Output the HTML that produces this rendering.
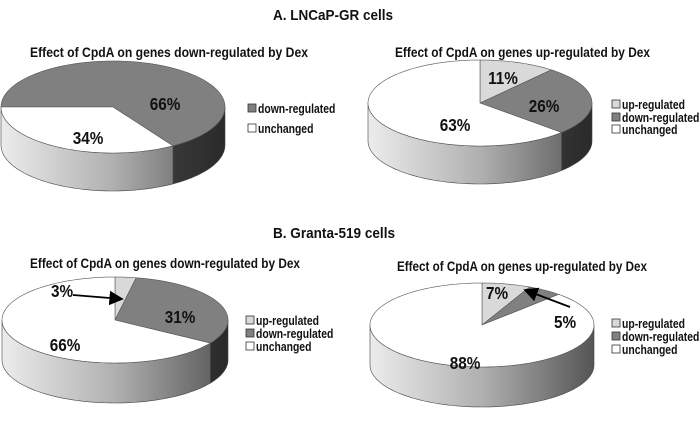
<!DOCTYPE html>
<html><head><meta charset="utf-8"><style>
body{margin:0;background:#fff;}
svg text{font-family:"Liberation Sans",sans-serif;font-weight:bold;fill:#111;}
</style></head><body>
<svg id="chart" width="700" height="424" viewBox="0 0 700 424" xmlns="http://www.w3.org/2000/svg">
<defs>
<marker id="ah" markerWidth="8" markerHeight="8" refX="7" refY="4" orient="auto"><path d="M0,0 L8,4 L0,8 Z" fill="#000"/></marker>
</defs>
<text x="273" y="20" font-size="15" textLength="120" lengthAdjust="spacingAndGlyphs">A. LNCaP-GR cells</text>
<text x="273" y="238" font-size="15" textLength="122" lengthAdjust="spacingAndGlyphs">B. Granta-519 cells</text>
<g id="pies"></g>
</svg>
<script>
var pieTitles=["Effect of CpdA on genes down-regulated by Dex","Effect of CpdA on genes up-regulated by Dex","Effect of CpdA on genes down-regulated by Dex","Effect of CpdA on genes up-regulated by Dex"];
var pie1Cats=["down-regulated","unchanged"];
var pie1Vals=[66,34];
var pie2Cats=["up-regulated","down-regulated","unchanged"];
var pie2Vals=[11,26,63];
var pie3Cats=["up-regulated","down-regulated","unchanged"];
var pie3Vals=[3,31,66];
var pie4Cats=["up-regulated","down-regulated","unchanged"];
var pie4Vals=[7,5,88];

var NS="http://www.w3.org/2000/svg";
var root=document.getElementById('pies');
var colors={"up-regulated":"#d9d9d9","down-regulated":"#808080","unchanged":"#ffffff"};
var sideDark={"up-regulated":false,"down-regulated":true,"unchanged":false};
function mk(tag,attrs,parent){var e=document.createElementNS(NS,tag);for(var k in attrs)e.setAttribute(k,attrs[k]);(parent||root).appendChild(e);return e;}

var layouts=[
 {cx:113,cy:107,rx:112,ry:46,d:38,start:180,tx:30,ty:57,tw:278,lx:248,ly:[113,133],labels:[[165,110],[88,144]]},
 {cx:480,cy:103,rx:112,ry:43,d:38,start:270,tx:395,ty:57,tw:255,lx:612,ly:[109,122,134],labels:[[503,84],[544,112],[455,131]]},
 {cx:115,cy:320,rx:113,ry:43,d:40,start:270,tx:30,ty:268,tw:270,lx:246,ly:[325,338,351],labels:[[62,297],[180,323],[65,351]],arrow:[73,295,122,299]},
 {cx:482,cy:325,rx:112,ry:42,d:40,start:270,tx:397,ty:271,tw:250,lx:612,ly:[328,341,354],labels:[[497,299],[565,328],[465,369]],arrow:[570,307,525,290]}
];
var allCats=[pie1Cats,pie2Cats,pie3Cats,pie4Cats];
var allVals=[pie1Vals,pie2Vals,pie3Vals,pie4Vals];

function pt(L,deg,dy){var r=deg*Math.PI/180;return [L.cx+L.rx*Math.cos(r),L.cy+L.ry*Math.sin(r)+(dy||0)];}
function arcPath(L,a0,a1,dy){var s="";var steps=Math.max(2,Math.ceil(Math.abs(a1-a0)/2));for(var i=0;i<=steps;i++){var p=pt(L,a0+(a1-a0)*i/steps,dy);s+=(i?"L":"")+p[0].toFixed(2)+","+p[1].toFixed(2);}return s;}

layouts.forEach(function(L,pi){
  var cats=allCats[pi],vals=allVals[pi];
  var g=mk('g',{});
  
  
  var gid='gl'+pi,gdid='gd'+pi;
  var defs=mk('defs',{},g);
  var lg=mk('linearGradient',{id:gid,gradientUnits:'userSpaceOnUse',x1:L.cx-L.rx,y1:0,x2:L.cx+L.rx,y2:0},defs);
  mk('stop',{offset:'0','stop-color':'#ececec'},lg);mk('stop',{offset:'0.5','stop-color':'#b0b0b0'},lg);mk('stop',{offset:'1','stop-color':'#555'},lg);
  var lg2=mk('linearGradient',{id:gdid,gradientUnits:'userSpaceOnUse',x1:L.cx-L.rx,y1:0,x2:L.cx+L.rx,y2:0},defs);
  mk('stop',{offset:'0','stop-color':'#666'},lg2);mk('stop',{offset:'1','stop-color':'#2a2a2a'},lg2);
  var t=mk('text',{x:L.tx,y:L.ty,'font-size':14,textLength:L.tw,lengthAdjust:'spacingAndGlyphs'},g);
  t.textContent=pieTitles[pi];
  
  
  var total=vals.reduce(function(a,b){return a+b;},0);
  var ang=L.start,ranges=[];
  vals.forEach(function(v){var a1=ang+v/total*360;ranges.push([ang,a1]);ang=a1;});
  ranges.forEach(function(r,i){
    [0,360].forEach(function(off){
      var a=Math.max(r[0],off),b=Math.min(r[1],off+180);
      if(b>a){
        var d="M"+arcPath(L,a,b,0)+"L"+arcPath(L,b,a,L.d)+"Z";
        var s=mk('path',{d:d,fill:'url(#'+(sideDark[cats[i]]?gdid:gid)+')',stroke:'#444','stroke-width':0.6},g);
        
        
      }
    });
  });
  ranges.forEach(function(r,i){
    var d="M"+L.cx+","+L.cy+"L"+arcPath(L,r[0],r[1],0)+"Z";
    var s=mk('path',{d:d,fill:colors[cats[i]],stroke:'#555','stroke-width':0.6},g);
    
    
  });
  vals.forEach(function(v,i){
    var lt=mk('text',{transform:'translate('+L.labels[i][0]+','+L.labels[i][1]+') scale(0.85,1)','font-size':18,'text-anchor':'middle'},g);
    lt.textContent=v+"%";
    
    
  });
  if(L.arrow){
    var a=mk('line',{x1:L.arrow[0],y1:L.arrow[1],x2:L.arrow[2],y2:L.arrow[3],stroke:'#000','stroke-width':1.8,'marker-end':'url(#ah)'},g);
    
    
  }
  cats.forEach(function(c,i){
    var y=L.ly[i];
    var sw=mk('rect',{x:L.lx,y:y-9,width:8,height:8,fill:colors[c],stroke:'#333','stroke-width':0.8},g);
    
    
    var lt=mk('text',{transform:'translate('+(L.lx+10)+','+y+') scale(0.8,1)','font-size':13},g);
    lt.textContent=c;
    
    
  });
});
</script>
</body></html>
